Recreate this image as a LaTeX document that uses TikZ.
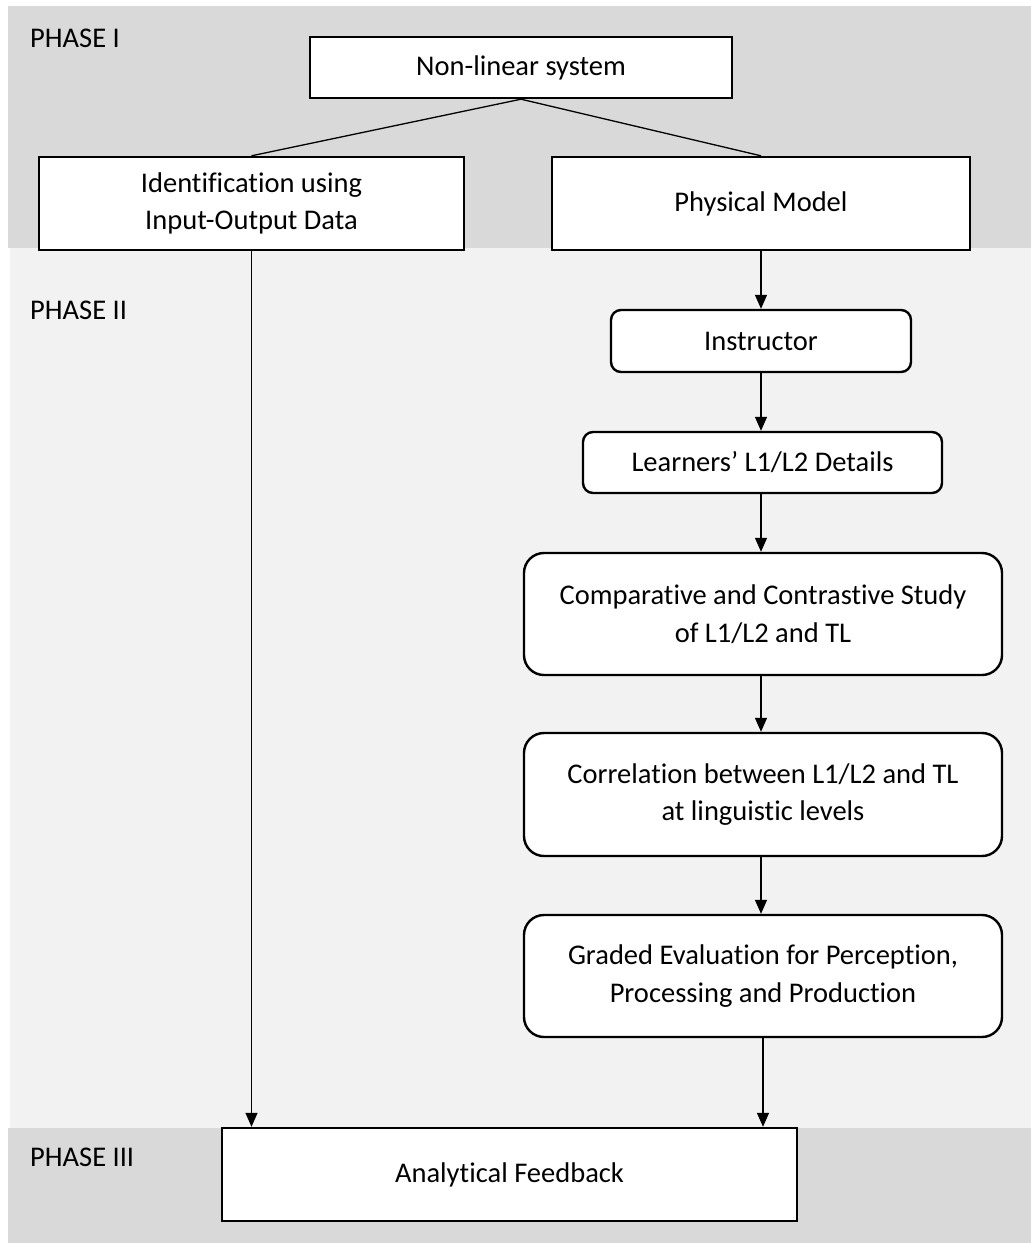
\documentclass[tikz,border=0pt]{standalone}
\usepackage{fontspec}
\setmainfont{Carlito}[Ligatures=NoCommon]
\usetikzlibrary{arrows.meta}
\definecolor{bandA}{HTML}{D9D9D9}
\definecolor{bandB}{HTML}{F2F2F2}
\begin{document}
\begin{tikzpicture}[x=1pt,y=-1pt,
  font=\fontsize{28.5}{37.5}\selectfont,
  box/.style={draw=black,line width=2.4pt,fill=white,inner sep=0pt,align=center},
  rbox/.style={box,rounded corners=#1},
  link/.style={line width=1.3pt},
  arr/.style={line width=1.3pt,-{Triangle[length=14pt,width=12pt]}},
  phase/.style={anchor=base west,inner sep=0pt}]
\useasboundingbox (0,0) rectangle (1031,1243);
% bands
\fill[bandA] (8,6) rectangle (1031,248);
\fill[bandB] (10,248) rectangle (1031,1128);
\fill[bandA] (8,1128) rectangle (1031,1243);
% phase labels
\node[phase] (p1) at (30,47) {PHASE I};
\node[phase] (p2) at (30,319) {PHASE II};
\node[phase] (p3) at (30,1166) {PHASE III};
% nodes
\node[box,minimum width=422pt,minimum height=61pt] (nls) at (521,67.5) {Non-linear system};
\node[box,minimum width=425pt,minimum height=93pt] (ident) at (251.5,203.5) {Identification using\\Input-Output Data};
\node[box,minimum width=418pt,minimum height=93pt] (phys) at (761,203.5) {Physical Model};
\node[rbox=10pt,minimum width=300pt,minimum height=62pt] (instr) at (761,341) {Instructor};
\node[rbox=10pt,minimum width=359pt,minimum height=61pt] (learn) at (762.5,462.5) {Learners’ L1/L2 Details};
\node[rbox=20pt,minimum width=478pt,minimum height=122pt] (comp) at (763,614) {Comparative and Contrastive Study\\of L1/L2 and TL};
\node[rbox=20pt,minimum width=478pt,minimum height=123pt] (corr) at (763,794.5) {Correlation between L1/L2 and TL\\at linguistic levels};
\node[rbox=20pt,minimum width=478pt,minimum height=122pt] (grad) at (763,976) {Graded Evaluation for Perception,\\Processing and Production};
\node[box,minimum width=575pt,minimum height=93pt] (anal) at (509.5,1174.5) {Analytical Feedback};
% connectors
\draw[link] (nls.south) -- (ident.north);
\draw[link] (nls.south) -- (phys.north);
\draw[arr] (phys.south) -- (instr.north);
\draw[arr] (instr.south) -- (learn.north -| instr.south);
\draw[arr] (learn.south -| instr.south) -- (comp.north -| instr.south);
\draw[arr] (comp.south -| instr.south) -- (corr.north -| instr.south);
\draw[arr] (corr.south -| instr.south) -- (grad.north -| instr.south);
\draw[arr] (grad.south) -- (grad.south |- anal.north);
\draw[arr] (ident.south) -- (ident.south |- anal.north);
\end{tikzpicture}
\end{document}
